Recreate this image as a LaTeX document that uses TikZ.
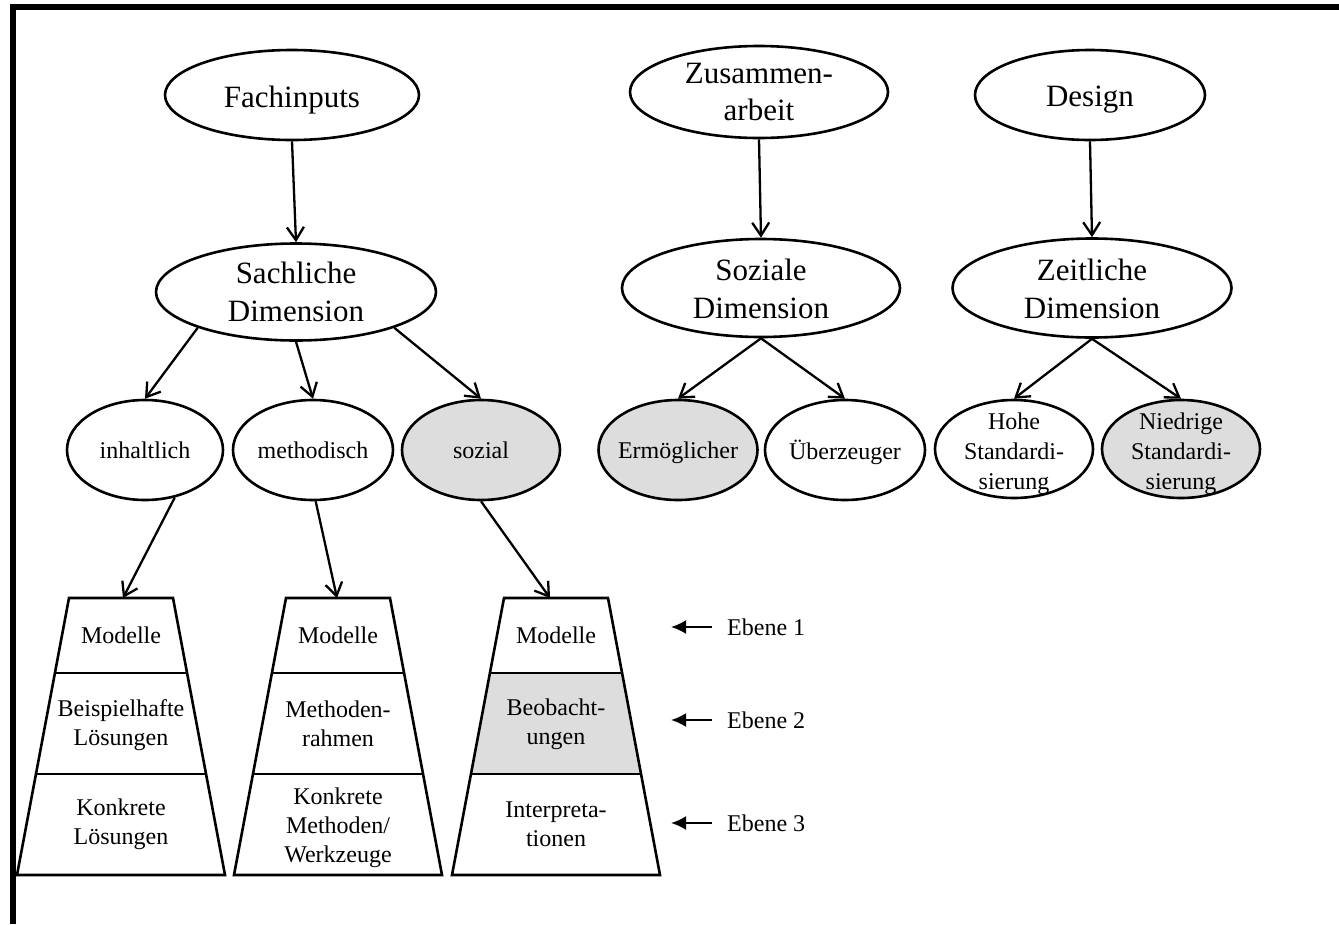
\documentclass[tikz,border=0pt]{standalone}
\usepackage{fontspec}
\setmainfont{Liberation Serif}
\usetikzlibrary{arrows.meta,shapes.geometric}
\definecolor{panelgray}{RGB}{221,221,221}

% three stacked layers of a trapezoid centred at x = #1, middle band filled with #2
\newcommand\layerstack[2]{%
  \fill[fill=#2] (#1-66,673) -- (#1+66,673) -- (#1+85,774) -- (#1-85,774) -- cycle;
  \draw[layer] (#1-52,598) -- (#1+52,598) -- (#1+104,875) -- (#1-104,875) -- cycle;
  \draw[layer] (#1-66,673) -- (#1+66,673);
  \draw[layer] (#1-85,774) -- (#1+85,774);
}

\begin{document}
\begin{tikzpicture}[x=1pt,y=-1pt,
  oval/.style={draw, ellipse, line width=2.6pt, inner sep=0pt},
  bigtxt/.style={align=center, inner sep=0pt, font=\fontsize{31}{37.5}\selectfont},
  smalltxt/.style={align=center, inner sep=0pt, font=\fontsize{24}{29}\selectfont},
  link/.style={line width=2.3pt, -{Straight Barb[length=13pt,width=17pt]}},
  level/.style={line width=2.2pt, -{Latex[length=15pt,width=14pt]}},
  layer/.style={draw, line width=2.6pt, line join=miter}]

\useasboundingbox (0,0) rectangle (1339,924);

% frame
\draw[line width=6pt, line join=miter] (13,924) -- (13,6.5) -- (1339,6.5);

% top row
\node[oval, minimum width=254pt, minimum height=90pt] (fach) at (292,95) {};
\node[bigtxt] (fach-t) at (292,100) {Fachinputs};
\node[oval, minimum width=258pt, minimum height=92pt] (zus) at (759,92) {};
\node[bigtxt] (zus-t) at (759,92) {Zusammen-\\arbeit};
\node[oval, minimum width=230pt, minimum height=90pt] (des) at (1090,95) {};
\node[bigtxt] (des-t) at (1090,100) {Design};

% dimensions
\node[oval, minimum width=280pt, minimum height=97pt] (sach) at (296,292) {};
\node[bigtxt] (sach-t) at (296,292) {Sachliche\\Dimension};
\node[oval, minimum width=278pt, minimum height=98pt] (soz) at (761,288) {};
\node[bigtxt] (soz-t) at (761,289) {Soziale\\Dimension};
\node[oval, minimum width=279pt, minimum height=99pt] (zeit) at (1092,288) {};
\node[bigtxt] (zeit-t) at (1092,289) {Zeitliche\\Dimension};

% third row
\node[oval, minimum width=156pt, minimum height=100pt] (inh) at (145,450) {};
\node[smalltxt] (inh-t) at (145,450) {inhaltlich};
\node[oval, minimum width=160pt, minimum height=100pt] (meth) at (313,450) {};
\node[smalltxt] (meth-t) at (313,450) {methodisch};
\node[oval, fill=panelgray, minimum width=158pt, minimum height=100pt] (sozial) at (481,450) {};
\node[smalltxt] (sozial-t) at (481,450) {sozial};
\node[oval, fill=panelgray, minimum width=159pt, minimum height=100pt] (erm) at (678,450) {};
\node[smalltxt] (erm-t) at (678,453) {Ermöglicher};
\node[oval, minimum width=160pt, minimum height=100pt] (ueb) at (845,450) {};
\node[smalltxt] (ueb-t) at (845,452) {Überzeuger};
\node[oval, minimum width=158pt, minimum height=98pt] (hohe) at (1014,449) {};
\node[smalltxt, font=\fontsize{24}{30}\selectfont] (hohe-t) at (1014,454) {Hohe\\Standardi-\\sierung};
\node[oval, fill=panelgray, minimum width=158pt, minimum height=98pt] (nied) at (1181,449) {};
\node[smalltxt, font=\fontsize{24}{30}\selectfont] (nied-t) at (1181,454) {Niedrige\\Standardi-\\sierung};

% layer stacks
\layerstack{121}{white}
\layerstack{338}{white}
\layerstack{556}{panelgray}
\coordinate (top1) at (123,598);
\coordinate (top2) at (337,598);
\coordinate (top3) at (550,598);

\node[smalltxt] (a1) at (121,635) {Modelle};
\node[smalltxt] (a2) at (121,725) {Beispielhafte\\Lösungen};
\node[smalltxt] (a3) at (121,824) {Konkrete\\Lösungen};
\node[smalltxt] (b1) at (338,635) {Modelle};
\node[smalltxt] (b2) at (338,724) {Methoden-\\rahmen};
\node[smalltxt] (b3) at (338,828) {Konkrete\\Methoden/\\Werkzeuge};
\node[smalltxt] (c1) at (556,635) {Modelle};
\node[smalltxt] (c2) at (556,724) {Beobacht-\\ungen};
\node[smalltxt] (c3) at (556,824) {Interpreta-\\tionen};

% level markers
\coordinate (l1) at (671,627);
\coordinate (l2) at (671,720);
\coordinate (l3) at (671,823);
\node[smalltxt, anchor=west, inner xsep=15pt] (e1) at (712,627) {Ebene 1};
\node[smalltxt, anchor=west, inner xsep=15pt] (e2) at (712,720) {Ebene 2};
\node[smalltxt, anchor=west, inner xsep=15pt] (e3) at (712,823) {Ebene 3};
\draw[level] (e1.west) -- (l1);
\draw[level] (e2.west) -- (l2);
\draw[level] (e3.west) -- (l3);

% connectors
\draw[link] (fach.south) -- (sach.north);
\draw[link] (zus.south) -- (soz.north);
\draw[link] (des.south) -- (zeit.north);
\draw[link] (sach.200) -- (inh.north);
\draw[link] (sach.south) -- (meth.north);
\draw[link] (sach.-20) -- (sozial.north);
\draw[link] (soz.south) -- (erm.north);
\draw[link] (soz.south) -- (ueb.north);
\draw[link] (zeit.south) -- (hohe.north);
\draw[link] (zeit.south) -- (nied.north);
\draw[link] (inh.-58) -- (top1);
\draw[link] (meth.-87) -- (top2);
\draw[link] (sozial.south) -- (top3);

\end{tikzpicture}
\end{document}
